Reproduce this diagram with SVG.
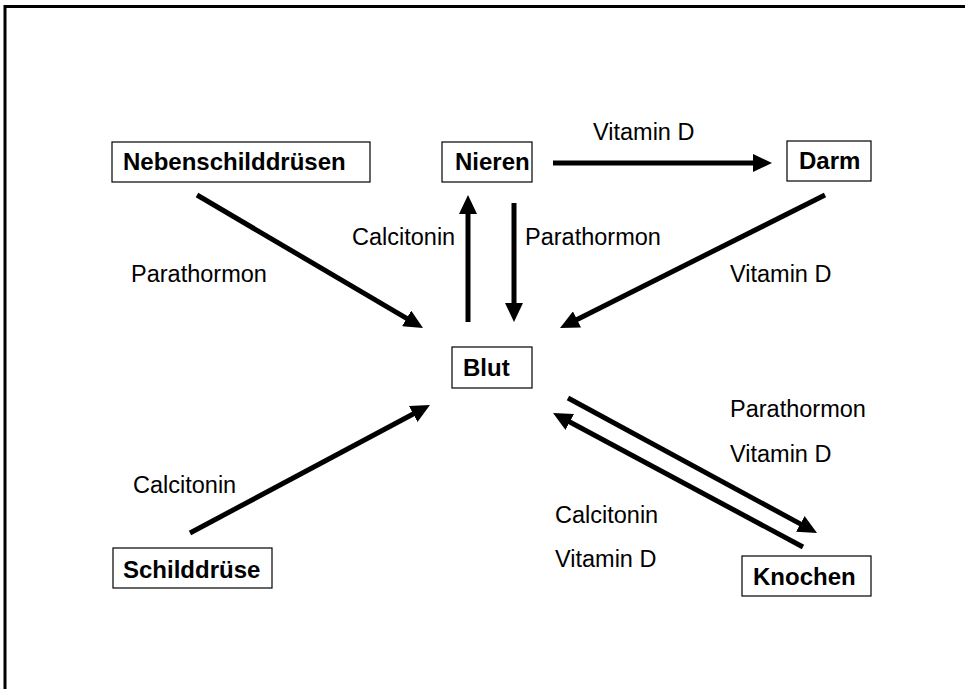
<svg xmlns="http://www.w3.org/2000/svg" width="965" height="689" viewBox="0 0 965 689">
<style>
.box{fill:#fff;stroke:#000;stroke-width:1.2}
.nt{font-family:"Liberation Sans",Arial,sans-serif;font-size:24px;font-weight:bold;fill:#000}
.lb{font-family:"Liberation Sans",Arial,sans-serif;font-size:23.5px;fill:#000}
.ar{stroke:#000;stroke-width:5;fill:none;marker-end:url(#ah)}
</style>
<defs>
<marker id="ah" markerUnits="userSpaceOnUse" markerWidth="20" markerHeight="18" viewBox="0 0 20 18" refX="1" refY="9" orient="auto">
<path d="M0,0 L19,9 L0,18 z" fill="#000"/>
</marker>
</defs>
<rect width="965" height="689" fill="#fff"/>
<path d="M5,689 L5,6.5 L965,6.5" fill="none" stroke="#000" stroke-width="3"/>
<g id="nebenschilddruesen"><rect class="box" x="112" y="142" width="258" height="40"/><text class="nt" x="123" y="170">Nebenschilddrüsen</text></g>
<g id="nieren"><rect class="box" x="442" y="142" width="90" height="40"/><text class="nt" x="455" y="170">Nieren</text></g>
<g id="darm"><rect class="box" x="787" y="141" width="84" height="40"/><text class="nt" x="799" y="169">Darm</text></g>
<g id="blut"><rect class="box" x="452" y="347" width="80" height="41"/><text class="nt" x="463" y="376">Blut</text></g>
<g id="schilddruese"><rect class="box" x="113" y="548" width="159" height="40"/><text class="nt" x="123" y="578">Schilddrüse</text></g>
<g id="knochen"><rect class="box" x="742" y="556" width="129" height="40"/><text class="nt" x="753" y="585">Knochen</text></g>
<g id="connectors">
<line class="ar" x1="197" y1="195" x2="407.5" y2="318.9"/>
<line class="ar" x1="468" y1="322" x2="468" y2="213"/>
<line class="ar" x1="514" y1="203" x2="514" y2="304"/>
<line class="ar" x1="825" y1="195" x2="576.1" y2="319.9"/>
<line class="ar" x1="190" y1="533" x2="414.1" y2="413.5"/>
<line class="ar" x1="553" y1="163" x2="754" y2="163"/>
<line class="ar" x1="568" y1="398" x2="801.2" y2="524.4"/>
<line class="ar" x1="803" y1="547" x2="568.9" y2="421.5"/>
</g>
<g id="labels">
<text class="lb" x="593" y="140">Vitamin D</text>
<text class="lb" x="131" y="282">Parathormon</text>
<text class="lb" x="352" y="245">Calcitonin</text>
<text class="lb" x="525" y="245">Parathormon</text>
<text class="lb" x="730" y="282">Vitamin D</text>
<text class="lb" x="133" y="493">Calcitonin</text>
<text class="lb" x="730" y="417">Parathormon</text>
<text class="lb" x="730" y="462">Vitamin D</text>
<text class="lb" x="555" y="523">Calcitonin</text>
<text class="lb" x="555" y="567">Vitamin D</text>
</g>
</svg>
